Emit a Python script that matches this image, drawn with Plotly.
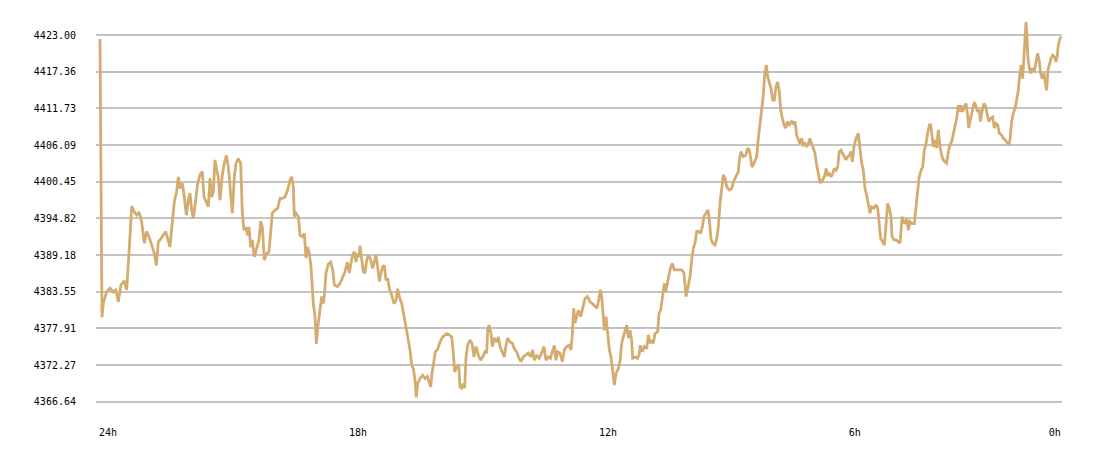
import plotly.graph_objs as go

# minutes since the start of the 24h window, and the price at that moment
minutes = [
    0, 1.5, 3, 5, 10, 15, 20, 23.5, 27.5, 31.5, 36.5, 40, 42.5, 45, 47.5, 51.5, 55, 58.5,
    62.5, 66.5, 70, 73.5, 77.5, 81.5, 84.5, 87.5, 91.5, 95, 98.5, 101.5, 105, 108.5, 111.5,
    115, 117.5, 120, 123.5, 126.5, 129.5, 132.5, 135, 137.5, 140, 143.5, 146.5, 150, 153.5,
    156, 159, 162.5, 165, 167.5, 170, 172.5, 175, 177.5, 180, 183.5, 186.5, 189.5, 192.5,
    195, 198.5, 201.5, 204, 207.5, 211, 213.5, 216, 218.5, 221.5, 223.5, 226, 228.5, 231.5,
    235, 238.5, 241, 243.5, 246.5, 250, 253.5, 256, 258.5, 262.5, 266.5, 270, 273.5, 277.5,
    281.5, 285, 287.5, 290, 291.5, 294, 297.5, 300, 303.5, 306.5, 309, 311.5, 314, 316.5,
    318.5, 320, 322.5, 324.5, 327, 330, 332.5, 335, 337, 339, 342.5, 346, 349, 351.5, 356,
    360, 364, 367.5, 371, 374, 376.5, 379, 381.5, 384, 386, 388.5, 390, 392.5, 395, 397.5,
    400, 403, 406, 409, 411.5, 414, 416.5, 419, 421.5, 424, 426.5, 429, 431.5, 434, 437.5,
    441, 444, 446.5, 449, 452.5, 455, 457.5, 460, 462.5, 465, 467.5, 470, 472.5, 474.5,
    476.5, 480, 484, 487.5, 491, 494, 496, 498, 500.5, 503, 506.5, 510, 514, 517.5, 520,
    524, 527.5, 530, 532, 535, 538, 540, 542.5, 545, 547, 549, 551.5, 555, 558, 561, 564,
    567.5, 571, 574, 577.5, 580, 581.5, 583.5, 586.5, 588.5, 591.5, 595, 597.5, 600, 603.5,
    606.5, 609, 611.5, 615, 618.5, 621.5, 625, 628.5, 631.5, 635, 638.5, 642.5, 646.5, 649,
    651.5, 655, 658.5, 662.5, 666, 669, 672.5, 675.5, 678.5, 681.5, 684, 686.5, 690, 693.5,
    696.5, 700, 703.5, 706.5, 708.5, 710.5, 712.5, 715, 717.5, 721, 724, 727.5, 731, 735,
    738.5, 742.5, 745.5, 748.5, 750.5, 752.5, 755, 756.5, 759, 761.5, 764, 766.5, 769, 771.5,
    774, 777.5, 780, 782.5, 785, 787.5, 790, 792.5, 795, 797.5, 799, 802.5, 806, 808.5,
    810.5, 813.5, 816.5, 820, 822.5, 825, 827.5, 830, 832.5, 836.5, 838.5, 841, 844, 846.5,
    848.5, 851.5, 855, 858.5, 861.5, 865, 868.5, 872.5, 876, 879, 882, 885, 887.5, 890,
    892.5, 895, 898, 901, 903.5, 906, 909, 912, 914, 916.5, 919, 922.5, 925, 927.5, 930,
    932.5, 935, 937.5, 940, 944, 947.5, 950, 954, 957.5, 959, 961.5, 965, 968.5, 971.5, 974,
    976.5, 978, 981, 985, 987.5, 990, 992.5, 995, 997, 999.5, 1001.5, 1004, 1006.5, 1009,
    1011.5, 1014, 1016.5, 1019, 1021, 1023.5, 1026, 1028.5, 1031, 1034, 1037.5, 1040,
    1042.5, 1045, 1047.5, 1050, 1052.5, 1055, 1057.5, 1060, 1062.5, 1065, 1067.5, 1070,
    1072.5, 1075, 1077.5, 1080, 1082.5, 1085, 1087.5, 1089, 1091.5, 1094, 1096.5, 1099,
    1101.5, 1104, 1106.5, 1109, 1111.5, 1114, 1116.5, 1119, 1121.5, 1124, 1126.5, 1128.5,
    1131, 1134, 1137.5, 1140, 1142.5, 1145, 1147.5, 1150, 1152.5, 1155, 1157.5, 1161, 1164,
    1166.5, 1168.5, 1171, 1174, 1176.5, 1179, 1181.5, 1184, 1186.5, 1188, 1191, 1194, 1197,
    1200, 1201.5, 1203, 1205, 1207.5, 1210, 1212.5, 1215, 1218.5, 1221.5, 1224, 1226,
    1228.5, 1231.5, 1234, 1236.5, 1239, 1241.5, 1244, 1246, 1248, 1250, 1252.5, 1255,
    1257.5, 1260, 1262.5, 1265, 1267.5, 1270, 1272.5, 1275, 1277.5, 1280, 1282.5, 1285,
    1287.5, 1290, 1291.5, 1294, 1296.5, 1299, 1301.5, 1303, 1306, 1308.5, 1311.5, 1314,
    1316.5, 1319, 1320.5, 1323, 1326, 1328.5, 1331, 1333, 1336, 1339, 1341.5, 1344, 1346.5,
    1349, 1352.5, 1355, 1357.5, 1360, 1363, 1365, 1367.5, 1370, 1372.5, 1375, 1377.5,
    1379.5, 1382, 1384, 1386, 1387.5, 1389, 1390.5, 1392, 1394, 1396, 1398.5, 1401.5, 1404,
    1406.5, 1409, 1411, 1413.5, 1416, 1418.5, 1420, 1422, 1424, 1426.5, 1429, 1431.5, 1434,
    1436, 1437.5, 1440, 1442.5,
]

price = [
    4422.4, 4390.2, 4379.6, 4381.8, 4383.5, 4384.1, 4383.5, 4383.8, 4382.0, 4384.6, 4385.2,
    4383.8, 4387.4, 4392.0, 4396.7, 4395.8, 4395.3, 4395.8, 4394.3, 4391.0, 4392.8, 4392.0,
    4390.7, 4389.4, 4387.6, 4391.2, 4391.7, 4392.2, 4392.8, 4391.7, 4390.4, 4394.3, 4397.4,
    4398.9, 4401.2, 4399.4, 4400.2, 4398.1, 4395.3, 4397.6, 4398.7, 4396.1, 4394.8, 4397.6,
    4400.2, 4401.5, 4402.0, 4398.1, 4397.4, 4396.6, 4401.0, 4398.1, 4398.9, 4403.8, 4402.2,
    4401.2, 4397.6, 4401.5, 4403.3, 4404.5, 4402.7, 4400.2, 4395.6, 4401.2, 4403.3, 4404.0,
    4403.3, 4395.6, 4393.0, 4393.5, 4392.2, 4393.5, 4390.4, 4391.5, 4388.9, 4390.2, 4391.5,
    4394.4, 4393.5, 4388.4, 4389.4, 4389.7, 4393.0, 4395.6, 4396.1, 4396.4, 4397.9, 4397.9,
    4398.1, 4399.2, 4400.7, 4401.2, 4399.7, 4395.1, 4395.6, 4395.1, 4392.2, 4392.0, 4392.5,
    4388.7, 4390.4, 4389.4, 4387.4, 4383.8, 4381.7, 4379.7, 4375.5, 4378.4, 4381.2, 4382.8,
    4381.7, 4383.5, 4386.4, 4387.8, 4388.1, 4386.9, 4384.6, 4384.3, 4384.8, 4385.8, 4386.6,
    4388.1, 4386.4, 4387.9, 4389.2, 4389.7, 4388.1, 4389.4, 4388.9, 4390.6, 4388.4, 4386.6,
    4386.4, 4388.4, 4389.2, 4388.4, 4387.1, 4388.1, 4389.2, 4387.4, 4385.1, 4386.4, 4387.4,
    4387.6, 4385.3, 4385.6, 4384.0, 4383.0, 4381.7, 4382.2, 4384.0, 4382.8, 4381.7, 4380.4,
    4378.9, 4377.9, 4375.8, 4374.6, 4372.3, 4371.7, 4370.0, 4367.3, 4369.4, 4370.2, 4370.7,
    4370.2, 4370.5, 4369.7, 4368.9, 4371.0, 4372.8, 4374.3, 4374.7, 4375.8, 4376.6, 4376.9,
    4377.1, 4376.9, 4376.6, 4374.1, 4371.2, 4372.0, 4372.3, 4368.9, 4368.7, 4369.4, 4368.7,
    4373.5, 4375.3, 4376.1, 4375.6, 4373.5, 4375.1, 4373.8, 4373.0, 4373.5, 4374.3, 4374.1,
    4377.6, 4378.4, 4377.1, 4375.1, 4376.4, 4375.8, 4376.6, 4375.1, 4374.1, 4373.5, 4375.3,
    4376.4, 4375.8, 4375.6, 4374.8, 4374.3, 4373.3, 4372.8, 4373.5, 4373.8, 4374.1, 4373.5,
    4374.6, 4373.0, 4373.8, 4373.3, 4374.1, 4375.1, 4373.0, 4373.5, 4373.3, 4374.3, 4375.3,
    4373.0, 4374.3, 4374.1, 4372.8, 4374.6, 4375.1, 4375.3, 4374.6, 4377.1, 4381.0, 4378.7,
    4379.7, 4380.7, 4379.7, 4381.0, 4382.5, 4382.8, 4382.0, 4381.7, 4381.2, 4381.0, 4382.5,
    4383.8, 4382.8, 4379.7, 4377.6, 4379.7, 4377.1, 4374.6, 4373.5, 4371.0, 4369.2, 4371.0,
    4371.7, 4372.8, 4375.6, 4376.6, 4377.6, 4378.4, 4376.4, 4377.6, 4376.1, 4373.3, 4373.5,
    4373.3, 4373.8, 4375.3, 4374.3, 4375.1, 4374.8, 4376.9, 4375.6, 4376.1, 4375.6, 4377.1,
    4377.4, 4380.2, 4380.7, 4383.0, 4384.8, 4383.5, 4385.3, 4386.9, 4387.9, 4386.9, 4386.9,
    4386.9, 4386.9, 4386.4, 4382.8, 4384.3, 4385.8, 4388.4, 4390.2, 4391.0, 4392.8, 4392.8,
    4392.5, 4393.5, 4395.1, 4395.6, 4396.1, 4394.6, 4391.7, 4391.0, 4390.7, 4391.7, 4393.5,
    4397.1, 4399.2, 4401.5, 4401.0, 4399.7, 4399.2, 4399.4, 4400.4, 4401.2, 4402.0, 4403.8,
    4405.1, 4404.3, 4404.5, 4405.6, 4405.3, 4403.8, 4402.7, 4403.3, 4404.3, 4407.1, 4409.4,
    4411.2, 4413.8, 4416.9, 4418.4, 4416.6, 4415.6, 4414.8, 4413.0, 4413.0, 4415.1, 4415.8,
    4414.3, 4411.5, 4410.2, 4409.2, 4408.7, 4409.7, 4409.2, 4409.7, 4409.4, 4409.7, 4407.6,
    4406.9, 4406.3, 4407.1, 4406.1, 4406.3, 4405.8, 4406.3, 4407.1, 4406.3, 4405.6, 4404.8,
    4403.0, 4401.5, 4400.4, 4400.4, 4401.0, 4401.5, 4402.5, 4401.5, 4401.7, 4401.2, 4401.7,
    4402.5, 4402.2, 4402.7, 4405.1, 4405.3, 4404.8, 4404.3, 4403.8, 4404.3, 4404.5, 4405.1,
    4403.5, 4405.8, 4407.1, 4407.9, 4405.8, 4403.3, 4402.2, 4399.4, 4398.4, 4397.1, 4395.6,
    4396.6, 4396.4, 4396.9, 4396.4, 4394.3, 4391.7, 4391.2, 4390.7, 4393.8, 4397.1, 4396.4,
    4395.1, 4392.0, 4391.5, 4391.5, 4391.2, 4391.0, 4392.8, 4395.1, 4394.3, 4394.0, 4394.8,
    4393.0, 4394.3, 4394.0, 4394.0, 4396.4, 4398.7, 4401.0, 4402.2, 4402.7, 4405.3, 4406.3,
    4407.9, 4409.2, 4409.2, 4407.1, 4405.8, 4406.9, 4405.6, 4408.4, 4405.8, 4404.5, 4403.8,
    4403.5, 4403.3, 4405.1, 4406.1, 4406.6, 4407.9, 4409.2, 4410.2, 4412.2, 4411.2, 4412.2,
    4411.2, 4412.0, 4412.5, 4410.7, 4408.7, 4410.2, 4411.5, 4412.7, 4412.0, 4411.2, 4411.5,
    4409.7, 4411.2, 4412.5, 4412.0, 4410.7, 4409.7, 4410.2, 4410.4, 4408.7, 4409.4, 4409.2,
    4407.9, 4407.6, 4407.1, 4406.9, 4406.6, 4406.1, 4406.9, 4409.7, 4411.0, 4411.7, 4413.0,
    4414.5, 4416.9, 4418.4, 4416.3, 4419.4, 4421.5, 4425.0, 4422.5, 4419.4, 4417.9, 4417.1,
    4417.9, 4417.4, 4418.9, 4420.2, 4418.9, 4417.1, 4416.3, 4417.1, 4415.3, 4414.5, 4417.6,
    4418.6, 4419.4, 4419.9, 4419.7, 4418.9, 4419.9, 4421.5, 4422.5, 4422.7,
]

y_ticks = [4366.64, 4372.27, 4377.91, 4383.55, 4389.18, 4394.82,
           4400.45, 4406.09, 4411.73, 4417.36, 4423.00]
x_labels = ["24h", "18h", "12h", "6h", "0h"]
x_label_at = [12, 387, 762, 1132, 1432]  # where the chart prints its hour marks

fig = go.Figure()

fig.add_trace(go.Scatter(x=minutes, y=price, mode="lines",
                         line=dict(color="#d4ac70", width=2.8),
                         hoverinfo="skip", showlegend=False))

# page body keeps its default 8px margin, so the figure is 8px smaller
fig.update_layout(
    width=1092, height=450,
    margin=dict(l=88, r=38, t=7, b=53),
    paper_bgcolor="white", plot_bgcolor="white",
    font=dict(family="DejaVu Sans Mono", size=10, color="black"),
)

fig.update_xaxes(
    range=[-6, 1443], showgrid=False, zeroline=False, showline=False,
    tickvals=x_label_at, ticktext=x_labels,
    ticks="outside", ticklen=18, tickcolor="rgba(0,0,0,0)",
)

fig.update_yaxes(
    range=[4366.12, 4426.08], zeroline=False, showline=False,
    showgrid=True, gridcolor="#c3c3c3", gridwidth=2,
    tickvals=y_ticks, ticktext=["%.2f" % v for v in y_ticks],
    ticks="outside", ticklen=17, tickcolor="rgba(0,0,0,0)",
)

fig.write_html("out.html")
